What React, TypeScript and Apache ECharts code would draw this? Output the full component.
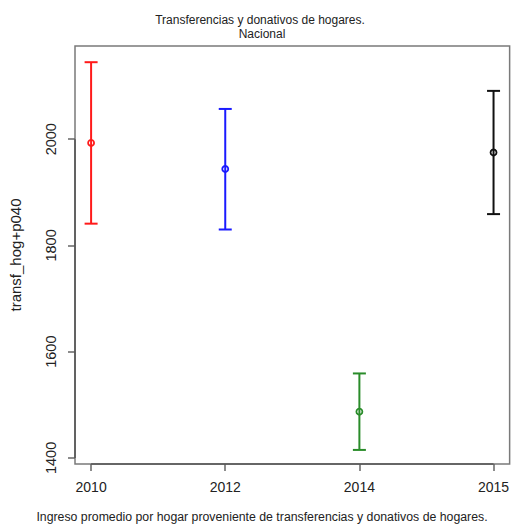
import React, { useEffect, useRef } from "react";
import * as echarts from "echarts";

const years = ["2010", "2012", "2014", "2015"];
const positions = [1, 2, 3, 4];
const means = [1993, 1944, 1487, 1975];
const lower = [1841, 1830, 1415, 1859];
const upper = [2145, 2057, 1559, 2091];
const colors = ["#ff1a1a", "#1a1aff", "#2a8c2a", "#111111"];
const yTicks = [1400, 1600, 1800, 2000];

const titleText = "Transferencias y donativos de hogares.";
const subtitleText = "Nacional";
const xTitle = "Ingreso promedio por hogar proveniente de transferencias y donativos de hogares.";
const yTitle = "transf_hog+p040";

const FONT = "Liberation Sans, Arial, sans-serif";
const X_MIN = 0.88;
const X_MAX = 4.12;
const Y_MIN = 1388.5;
const Y_MAX = 2175.5;

export default function App() {
  const ref = useRef<HTMLDivElement>(null);
  useEffect(() => {
    document.body.style.margin = "0";
    if (!ref.current) return;
    const chart = echarts.init(ref.current, null, { renderer: "svg" });
    const data = positions.map((p, i) => [p, means[i], lower[i], upper[i], i]);
    chart.setOption({
      animation: false,
      backgroundColor: "#ffffff",
      grid: {
        left: 72,
        right: 2,
        top: 46,
        bottom: 61,
        show: true,
        borderColor: "#7a7a7a",
        borderWidth: 1.5,
        backgroundColor: "transparent",
      },
      xAxis: {
        type: "value",
        min: X_MIN,
        max: X_MAX,
        axisLine: { show: false },
        splitLine: { show: false },
        axisTick: {
          show: true,
          customValues: positions,
          length: 7,
          lineStyle: { color: "#666", width: 1.5 },
        },
        axisLabel: {
          customValues: positions,
          formatter: (v: number) => {
            const idx = positions.indexOf(v);
            return idx >= 0 ? years[idx] : "";
          },
          fontFamily: FONT,
          fontSize: 14,
          color: "#222",
          margin: 16,
        },
      },
      yAxis: {
        type: "value",
        min: Y_MIN,
        max: Y_MAX,
        axisLine: { show: false },
        splitLine: { show: false },
        axisTick: {
          show: true,
          customValues: yTicks,
          length: 7,
          lineStyle: { color: "#666", width: 1.5 },
        },
        axisLabel: {
          customValues: yTicks,
          rotate: 90,
          formatter: (v: number) => String(v),
          fontFamily: FONT,
          fontSize: 14.5,
          color: "#222",
          margin: 17,
        },
        name: yTitle,
        nameLocation: "middle",
        nameRotate: 90,
        nameGap: 52,
        nameTextStyle: { fontFamily: FONT, fontSize: 15, color: "#222" },
      },
      graphic: [
        {
          type: "text",
          x: 260,
          y: 20,
          style: {
            text: titleText,
            fontFamily: FONT,
            fontSize: 12,
            fill: "#222",
            textAlign: "center",
            textVerticalAlign: "middle",
          },
        },
        {
          type: "text",
          x: 262,
          y: 33.5,
          style: {
            text: subtitleText,
            fontFamily: FONT,
            fontSize: 12,
            fill: "#222",
            textAlign: "center",
            textVerticalAlign: "middle",
          },
        },
        {
          type: "text",
          x: 262,
          y: 517,
          style: {
            text: xTitle,
            fontFamily: FONT,
            fontSize: 12.3,
            fill: "#222",
            textAlign: "center",
            textVerticalAlign: "middle",
          },
        },
      ],
      series: [
        {
          type: "custom",
          data: [[0]],
          silent: true,
          clip: false,
          renderItem: (params: any, api: any) => {
            const yA = api.coord([X_MIN, yTicks[0]]);
            const yB = api.coord([X_MIN, yTicks[yTicks.length - 1]]);
            const xA = api.coord([positions[0], Y_MIN]);
            const xB = api.coord([positions[positions.length - 1], Y_MIN]);
            const st = { stroke: "#555", lineWidth: 1.6 };
            return {
              type: "group",
              children: [
                { type: "line", shape: { x1: yA[0], y1: yA[1], x2: yB[0], y2: yB[1] }, style: st },
                { type: "line", shape: { x1: xA[0], y1: xA[1], x2: xB[0], y2: xB[1] }, style: st },
              ],
            };
          },
        },
        {
          type: "custom",
          data,
          clip: false,
          renderItem: (params: any, api: any) => {
            const x = api.value(0);
            const m = api.value(1);
            const lo = api.value(2);
            const hi = api.value(3);
            const c = colors[api.value(4)];
            const pHi = api.coord([x, hi]);
            const pLo = api.coord([x, lo]);
            const pM = api.coord([x, m]);
            const hw = 6.5;
            const st = { stroke: c, lineWidth: 2 };
            return {
              type: "group",
              children: [
                { type: "line", shape: { x1: pHi[0], y1: pHi[1], x2: pLo[0], y2: pLo[1] }, style: st },
                { type: "line", shape: { x1: pHi[0] - hw, y1: pHi[1], x2: pHi[0] + hw, y2: pHi[1] }, style: st },
                { type: "line", shape: { x1: pLo[0] - hw, y1: pLo[1], x2: pLo[0] + hw, y2: pLo[1] }, style: st },
                { type: "circle", shape: { cx: pM[0], cy: pM[1], r: 3 }, style: { fill: "none", stroke: c, lineWidth: 1.8 } },
              ],
            };
          },
        },
      ],
    });
    return () => chart.dispose();
  }, []);
  return <div ref={ref} style={{ width: 512, height: 525 }} />;
}
